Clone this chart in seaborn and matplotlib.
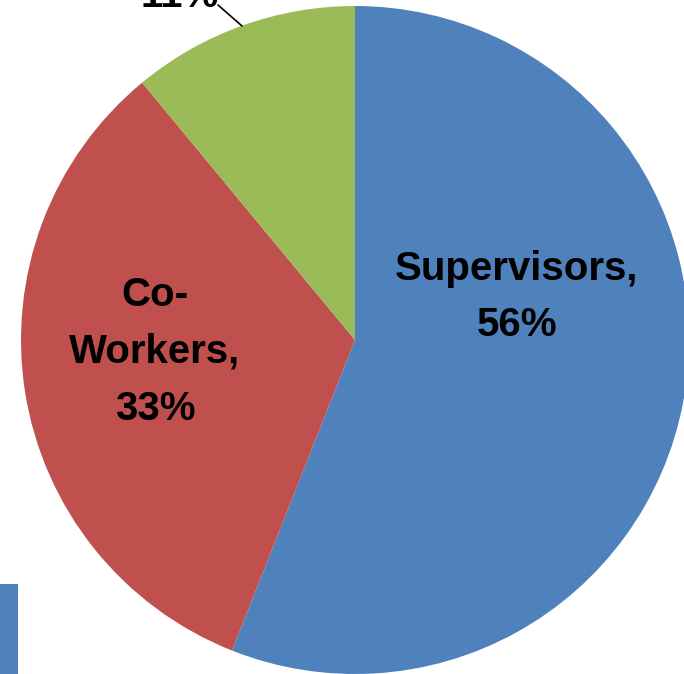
import matplotlib
matplotlib.use("Agg")
import matplotlib.pyplot as plt
import seaborn as sns
from matplotlib.patches import Rectangle

categories = ["Supervisors", "Co-\nWorkers", "Other"]
values = [56, 33, 11]
pct_labels = ["56%", "33%", "11%"]
colors = ["#4F81BD", "#C0504D", "#9BBB59"]

sns.set_theme(style="white")
plt.rcParams['font.family'] = ['Liberation Sans Narrow', 'Liberation Sans', 'DejaVu Sans']

W, H = 684, 674
fig = plt.figure(figsize=(W / 100, H / 100), dpi=100)
ax = fig.add_axes([0, 0, 1, 1])

R = 334.0
cx, cy = 355.0, 340.0
wedges, _ = ax.pie(values, colors=colors, startangle=90, counterclock=False,
                   radius=1, center=(0, 0), wedgeprops=dict(linewidth=0))
ax.set_xlim(-cx / R, (W - cx) / R)
ax.set_ylim(-(H - cy) / R, cy / R)
ax.set_aspect('equal')
ax.axis('off')


def px(x, y):
    return ((x - cx) / R, (cy - y) / R)


fs = 29
ls = 1.62
ax.text(*px(517, 297), f"{categories[0]},\n{pct_labels[0]}", ha='center', va='center',
        fontsize=fs, fontweight='bold', linespacing=ls, color='black')
ax.text(*px(155, 352), f"{categories[1]},\n{pct_labels[1]}", ha='center', va='center',
        fontsize=fs, fontweight='bold', linespacing=ls, color='black')
ax.text(*px(180, 7), pct_labels[2], ha='center', va='baseline',
        fontsize=fs, fontweight='bold', color='black')
ax.annotate('', xy=px(242, 26), xytext=px(218, 5),
            arrowprops=dict(arrowstyle='-', color='black', lw=1.2,
                            shrinkA=0, shrinkB=0))

fig.patches.append(Rectangle((0, 0), 18 / W, 90 / H, transform=fig.transFigure,
                             facecolor=colors[0], edgecolor='none'))

fig.savefig("out.png", dpi=100)
